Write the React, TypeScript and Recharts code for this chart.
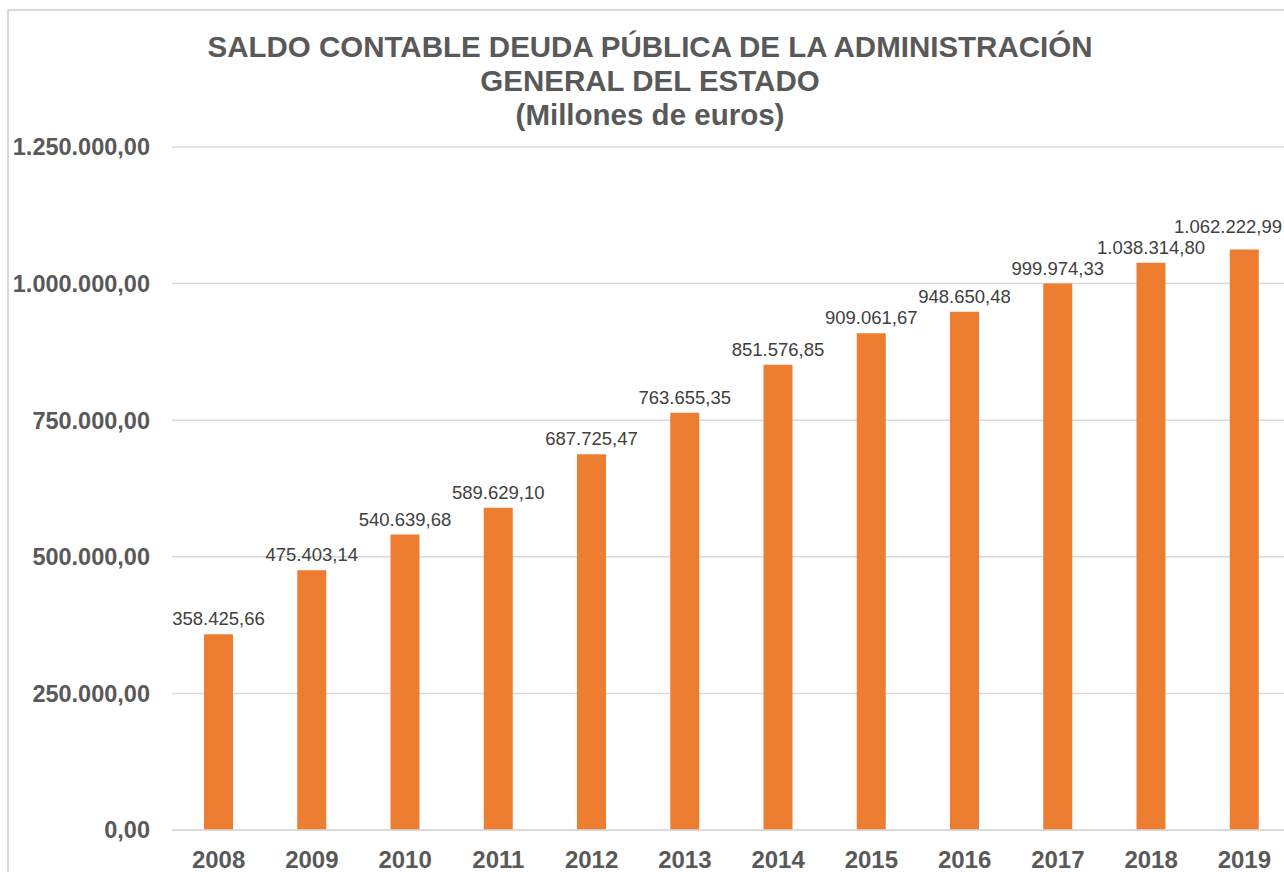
import React from "react";
import { BarChart, Bar, XAxis, YAxis, CartesianGrid, LabelList } from "recharts";

const years = ["2008", "2009", "2010", "2011", "2012", "2013", "2014", "2015", "2016", "2017", "2018", "2019"];
const saldo = [358425.66, 475403.14, 540639.68, 589629.1, 687725.47, 763655.35, 851576.85, 909061.67, 948650.48, 999974.33, 1038314.8, 1062222.99];
const yTicks = [0, 250000, 500000, 750000, 1000000, 1250000];
const titleLines = ["SALDO CONTABLE DEUDA PÚBLICA DE LA ADMINISTRACIÓN", "GENERAL DEL ESTADO", "(Millones de euros)"];

const data = years.map((y, i) => ({ year: y, saldo: saldo[i] }));

const fmt = (v: number) => {
  const [ip, dp] = Number(v).toFixed(2).split(".");
  return ip.replace(/\B(?=(\d{3})+(?!\d))/g, ".") + "," + dp;
};

const FONT = "'Liberation Sans', Arial, sans-serif";
const LABEL_SIZE = 18.5;
const VISIBLE_RIGHT = 1273;

const textWidth = (s: string) => {
  let w = 0;
  for (const ch of s) w += ch === "." || ch === "," ? 0.278 : 0.556;
  return w * LABEL_SIZE;
};

const ValueLabel = (props: any) => {
  const { x, y, width, value } = props;
  const s = fmt(value);
  const w = textWidth(s);
  let cx = x + width / 2;
  let gap = 9;
  if (cx + w / 2 > VISIBLE_RIGHT) {
    // Keep inside the chart area and lift it clear of its neighbour
    cx = VISIBLE_RIGHT - w / 2;
    gap = 17;
  }
  return (
    <text
      x={cx}
      y={y - gap}
      textAnchor="middle"
      fill="#404040"
      fontSize={LABEL_SIZE}
      fontFamily={FONT}
    >
      {s}
    </text>
  );
};

export default function App() {
  return (
    <>
      <style>{`body{margin:0;overflow:hidden;}`}</style>
      <div
        style={{
          position: "absolute",
          left: 7,
          top: 9,
          width: 1290,
          height: 900,
          border: "2px solid #d9d9d9",
          boxSizing: "border-box",
          background: "#fff",
          fontFamily: FONT,
        }}
      >
        <div
          style={{
            position: "absolute",
            left: 0,
            top: 19,
            width: 1282,
            textAlign: "center",
            fontWeight: "bold",
            fontSize: 29.5,
            lineHeight: "34px",
            color: "#595959",
          }}
        >
          {titleLines.map((t, i) => (
            <div key={i}>{t}</div>
          ))}
        </div>
        <div style={{ position: "absolute", left: 0, top: 0 }}>
          <BarChart
            width={1284}
            height={879}
            data={data}
            margin={{ top: 136, right: 2, bottom: 0, left: 0 }}
            barSize={29}
          >
            <CartesianGrid vertical={false} stroke="#d9d9d9" strokeWidth={1.5} />
            <XAxis
              dataKey="year"
              height={60}
              tickLine={false}
              tickSize={0}
              tickMargin={21}
              axisLine={{ stroke: "#d9d9d9", strokeWidth: 1.5 }}
              tick={{ fill: "#595959", fontSize: 24, fontWeight: "bold", fontFamily: FONT }}
              interval={0}
            />
            <YAxis
              width={163}
              domain={[0, 1250000]}
              ticks={yTicks}
              tickFormatter={fmt}
              axisLine={false}
              tickLine={false}
              tickSize={0}
              tickMargin={22}
              tick={{ fill: "#595959", fontSize: 23.5, fontWeight: "bold", fontFamily: FONT }}
              interval={0}
            />
            <Bar dataKey="saldo" fill="#ED7D31" isAnimationActive={false}>
              <LabelList dataKey="saldo" content={ValueLabel} />
            </Bar>
          </BarChart>
        </div>
      </div>
    </>
  );
}
